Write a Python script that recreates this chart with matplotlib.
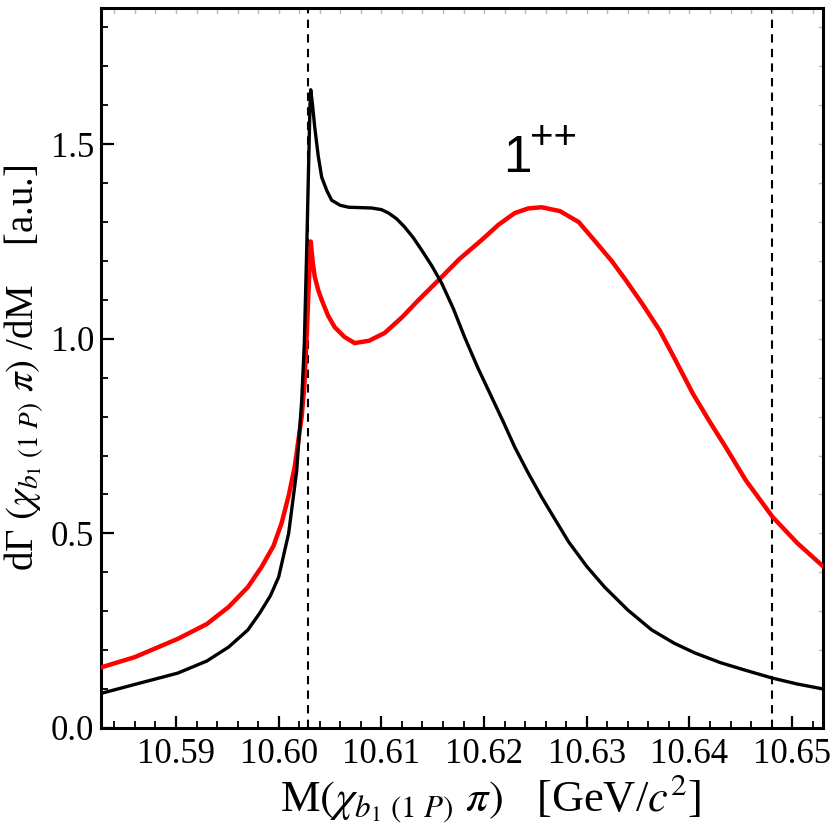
import numpy as np
import matplotlib
matplotlib.use("Agg")
import matplotlib.pyplot as plt
from matplotlib.ticker import MultipleLocator

# values
mass_black = [10.58286, 10.58600, 10.59017, 10.59300, 10.59513, 10.59700, 10.59815,
              10.59920, 10.60000, 10.60097, 10.60175, 10.60224, 10.60250, 10.60273,
              10.60292, 10.60305, 10.60312, 10.60330, 10.60351, 10.60385, 10.60419,
              10.60470, 10.60516, 10.60600, 10.60682, 10.60800, 10.60906, 10.61000,
              10.61071, 10.61150, 10.61227, 10.61310, 10.61392, 10.61490, 10.61587,
              10.61700, 10.61811, 10.61940, 10.62074, 10.62190, 10.62298, 10.62430,
              10.62561, 10.62700, 10.62824, 10.63000, 10.63174, 10.63400, 10.63632,
              10.63850, 10.64051, 10.64300, 10.64537, 10.64810, 10.65050, 10.65307]
rate_black = [0.090, 0.112, 0.141, 0.172, 0.208, 0.252, 0.295,
              0.340, 0.388, 0.500, 0.660, 0.840, 0.990, 1.230,
              1.450, 1.600, 1.640, 1.600, 1.544, 1.470, 1.415,
              1.380, 1.356, 1.343, 1.338, 1.337, 1.336, 1.332,
              1.323, 1.308, 1.287, 1.260, 1.228, 1.188, 1.143,
              1.078, 1.004, 0.925, 0.850, 0.785, 0.722, 0.655,
              0.593, 0.532, 0.478, 0.415, 0.362, 0.303, 0.252,
              0.218, 0.193, 0.168, 0.149, 0.128, 0.113, 0.100]

mass_red = [10.58286, 10.58598, 10.59017, 10.59300, 10.59513, 10.59700, 10.59834,
            10.59950, 10.60029, 10.60100, 10.60156, 10.60224, 10.60250, 10.60273,
            10.60295, 10.60312, 10.60330, 10.60351, 10.60385, 10.60419, 10.60480,
            10.60545, 10.60640, 10.60740, 10.60880, 10.61032, 10.61200, 10.61363,
            10.61558, 10.61760, 10.61977, 10.62140, 10.62298, 10.62430, 10.62561,
            10.62740, 10.62921, 10.63048, 10.63243, 10.63379, 10.63540, 10.63709,
            10.63870, 10.64031, 10.64190, 10.64352, 10.64547, 10.64810, 10.65050,
            10.65307]
rate_red = [0.157, 0.182, 0.229, 0.267, 0.311, 0.362, 0.414,
            0.468, 0.527, 0.600, 0.671, 0.800, 0.880, 1.010,
            1.150, 1.250, 1.200, 1.160, 1.125, 1.100, 1.060,
            1.030, 1.005, 0.989, 0.995, 1.015, 1.055, 1.100,
            1.151, 1.205, 1.254, 1.293, 1.323, 1.335, 1.338,
            1.328, 1.300, 1.261, 1.200, 1.151, 1.090, 1.022,
            0.942, 0.860, 0.790, 0.722, 0.637, 0.542, 0.475,
            0.414]

thresholds = [10.6029, 10.6480]

plt.rcParams['font.family'] = ['Liberation Serif', 'DejaVu Serif']
plt.rcParams['mathtext.fontset'] = 'stix'

fig = plt.figure(figsize=(8.34, 8.32), dpi=100)
ax = fig.add_axes([0.1211, 0.125, 0.8657, 0.8654])

ax.plot(mass_red, rate_red, color='#ff0000', lw=3.2, zorder=3)
ax.plot(mass_black, rate_black, color='black', lw=2.4, zorder=4)
for t in thresholds:
    ax.axvline(t, color='black', lw=1.5, ls=(0, (4, 3)), zorder=2)

ax.set_xlim(10.5827, 10.6530)
ax.set_ylim(0, 1.85)
ax.xaxis.set_major_locator(MultipleLocator(0.01))
ax.xaxis.set_minor_locator(MultipleLocator(0.002))
ax.yaxis.set_major_locator(MultipleLocator(0.5))
ax.yaxis.set_minor_locator(MultipleLocator(0.1))
ax.xaxis.set_major_formatter(plt.FuncFormatter(lambda v, p: f"{v:.2f}"))
ax.yaxis.set_major_formatter(plt.FuncFormatter(lambda v, p: f"{v:.1f}"))

ax.tick_params(which='major', direction='in', length=9, width=1.6, labelsize=25,
               top=False, right=False, pad=7)
ax.tick_params(axis='y', which='major', pad=5)
ax.tick_params(which='minor', direction='in', length=5, width=1.3, top=False, right=False)
# faint grey ticks along top and right edges
for v in np.arange(10.584, 10.653, 0.002):
    ax.plot([v, v], [1.85, 1.85 - 0.012], color='#bbbbbb', lw=1, clip_on=False)
for v in np.arange(0.1, 1.85, 0.1):
    ax.plot([10.6530, 10.6530 - 0.0004], [v, v], color='#bbbbbb', lw=1, clip_on=False)

for s in ax.spines.values():
    s.set_linewidth(2.2)

ax.set_xlabel(r"M$(\chi_{b_1\ (1\ P)}\ \pi)$   [GeV/$c^2$]", fontsize=32)
ax.xaxis.set_label_coords(0.54, -0.062)
ax.set_ylabel(r"dΓ $(\chi_{b_1\ (1\ P)}\ \pi)$ /dM    [a.u.]", fontsize=28)
ax.yaxis.set_label_coords(-0.076, 0.5)

ax.text(10.6219, 1.428, "1", fontsize=37, family='Liberation Sans')
ax.text(10.6245, 1.488, "++", fontsize=29, family='Liberation Sans')

fig.savefig("out.png", dpi=100)
